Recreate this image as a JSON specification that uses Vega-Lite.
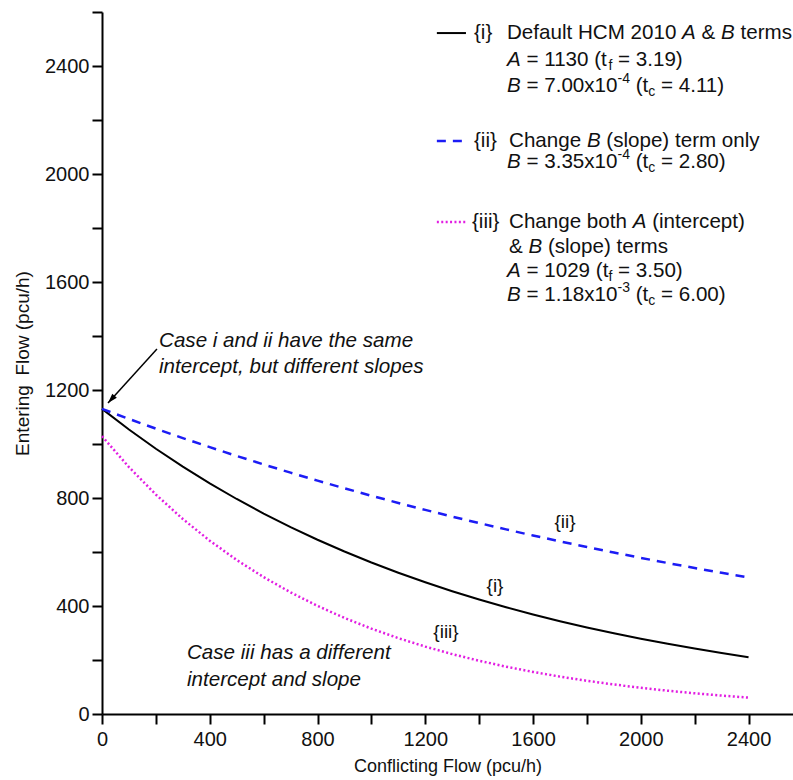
{
  "$schema": "https://vega.github.io/schema/vega-lite/v6.json",
  "autosize": {"type": "none"},
  "padding": {"left": 102, "top": 12, "right": 0, "bottom": 66},
  "width": 691,
  "height": 702,
  "config": {"view": {"stroke": null}, "font": "Liberation Sans"},
  "datasets": {
    "curves": [
      {"case":"i","x":0,"y":1130},{"case":"i","x":100,"y":1053.6},{"case":"i","x":200,"y":982.4},{"case":"i","x":300,"y":916.0},{"case":"i","x":400,"y":854.0},{"case":"i","x":500,"y":796.3},{"case":"i","x":600,"y":742.5},{"case":"i","x":700,"y":692.3},{"case":"i","x":800,"y":645.5},{"case":"i","x":900,"y":601.8},{"case":"i","x":1000,"y":561.1},{"case":"i","x":1100,"y":523.2},{"case":"i","x":1200,"y":487.8},{"case":"i","x":1300,"y":454.8},{"case":"i","x":1400,"y":424.1},{"case":"i","x":1500,"y":395.4},{"case":"i","x":1600,"y":368.7},{"case":"i","x":1700,"y":343.8},{"case":"i","x":1800,"y":320.5},{"case":"i","x":1900,"y":298.9},{"case":"i","x":2000,"y":278.7},{"case":"i","x":2100,"y":259.8},{"case":"i","x":2200,"y":242.3},{"case":"i","x":2300,"y":225.9},{"case":"i","x":2400,"y":210.6},
      {"case":"ii","x":0,"y":1130},{"case":"ii","x":100,"y":1092.8},{"case":"ii","x":200,"y":1056.8},{"case":"ii","x":300,"y":1021.9},{"case":"ii","x":400,"y":988.3},{"case":"ii","x":500,"y":955.7},{"case":"ii","x":600,"y":924.2},{"case":"ii","x":700,"y":893.8},{"case":"ii","x":800,"y":864.3},{"case":"ii","x":900,"y":835.9},{"case":"ii","x":1000,"y":808.3},{"case":"ii","x":1100,"y":781.7},{"case":"ii","x":1200,"y":755.9},{"case":"ii","x":1300,"y":731.0},{"case":"ii","x":1400,"y":707.0},{"case":"ii","x":1500,"y":683.7},{"case":"ii","x":1600,"y":661.1},{"case":"ii","x":1700,"y":639.4},{"case":"ii","x":1800,"y":618.3},{"case":"ii","x":1900,"y":597.9},{"case":"ii","x":2000,"y":578.2},{"case":"ii","x":2100,"y":559.2},{"case":"ii","x":2200,"y":540.8},{"case":"ii","x":2300,"y":522.9},{"case":"ii","x":2400,"y":505.7},
      {"case":"iii","x":0,"y":1029},{"case":"iii","x":100,"y":914.5},{"case":"iii","x":200,"y":812.7},{"case":"iii","x":300,"y":722.2},{"case":"iii","x":400,"y":641.9},{"case":"iii","x":500,"y":570.4},{"case":"iii","x":600,"y":506.9},{"case":"iii","x":700,"y":450.5},{"case":"iii","x":800,"y":400.4},{"case":"iii","x":900,"y":355.8},{"case":"iii","x":1000,"y":316.2},{"case":"iii","x":1100,"y":281.0},{"case":"iii","x":1200,"y":249.7},{"case":"iii","x":1300,"y":221.9},{"case":"iii","x":1400,"y":197.2},{"case":"iii","x":1500,"y":175.3},{"case":"iii","x":1600,"y":155.8},{"case":"iii","x":1700,"y":138.4},{"case":"iii","x":1800,"y":123.0},{"case":"iii","x":1900,"y":109.3},{"case":"iii","x":2000,"y":97.2},{"case":"iii","x":2100,"y":86.3},{"case":"iii","x":2200,"y":76.7},{"case":"iii","x":2300,"y":68.2},{"case":"iii","x":2400,"y":60.6}
    ],
    "legendLines": [
      {"case":"i","x":1243,"xe":1351,"y":2522},
      {"case":"ii","x":1243,"xe":1351,"y":2122},
      {"case":"iii","x":1243,"xe":1351,"y":1822}
    ],
    "normalText": [
      {"x":1380.8,"y":2522,"t":"{i}"},
      {"x":1503.3,"y":2522,"t":"Default HCM 2010"},
      {"x":2225.7,"y":2522,"t":"&"},
      {"x":2370.1,"y":2522,"t":"terms"},
      {"x":1575.7,"y":2422,"t":"= 1130 (t"},
      {"x":1915.4,"y":2422,"t":"= 3.19)"},
      {"x":1575.7,"y":2326,"t":"= 7.00x10"},
      {"x":1981.1,"y":2326,"t":"(t"},
      {"x":2075.0,"y":2326,"t":"= 4.11)"},
      {"x":1380.8,"y":2122,"t":"{ii}"},
      {"x":1510.8,"y":2122,"t":"Change"},
      {"x":1871.9,"y":2122,"t":"(slope) term only"},
      {"x":1575.7,"y":2044,"t":"= 3.35x10"},
      {"x":1981.1,"y":2044,"t":"(t"},
      {"x":2075.0,"y":2044,"t":"= 2.80)"},
      {"x":1373.4,"y":1822,"t":"{iii}"},
      {"x":1510.8,"y":1822,"t":"Change both"},
      {"x":2042.3,"y":1822,"t":"(intercept)"},
      {"x":1510.8,"y":1730,"t":"&"},
      {"x":1655.1,"y":1730,"t":"(slope) terms"},
      {"x":1575.7,"y":1641,"t":"= 1029 (t"},
      {"x":1915.4,"y":1641,"t":"= 3.50)"},
      {"x":1575.7,"y":1552,"t":"= 1.18x10"},
      {"x":1981.1,"y":1552,"t":"(t"},
      {"x":2075.0,"y":1552,"t":"= 6.00)"}
    ],
    "italicText": [
      {"x":2153.3,"y":2522,"t":"A"},
      {"x":2298.1,"y":2522,"t":"B"},
      {"x":1503.3,"y":2422,"t":"A"},
      {"x":1503.3,"y":2326,"t":"B"},
      {"x":1799.9,"y":2122,"t":"B"},
      {"x":1503.3,"y":2044,"t":"B"},
      {"x":1969.9,"y":1822,"t":"A"},
      {"x":1583.1,"y":1730,"t":"B"},
      {"x":1503.3,"y":1641,"t":"A"},
      {"x":1503.3,"y":1552,"t":"B"},
      {"x":211.6,"y":1381,"t":"Case i and ii have the same"},
      {"x":211.6,"y":1285,"t":"intercept, but different slopes"},
      {"x":315.5,"y":226,"t":"Case iii has a different"},
      {"x":315.5,"y":126,"t":"intercept and slope"}
    ],
    "subText": [
      {"x":1879.7,"y":2422,"t":"f"},
      {"x":2027.8,"y":2326,"t":"c"},
      {"x":2027.8,"y":2044,"t":"c"},
      {"x":1879.7,"y":1641,"t":"f"},
      {"x":2027.8,"y":1552,"t":"c"}
    ],
    "supText": [
      {"x":1913.9,"y":2326,"t":"-4"},
      {"x":1913.9,"y":2044,"t":"-4"},
      {"x":1913.9,"y":1552,"t":"-3"}
    ],
    "curveLabels": [
      {"x":1718.6,"y":711,"t":"{ii}"},
      {"x":1458.8,"y":474,"t":"{i}"},
      {"x":1276.9,"y":304,"t":"{iii}"}
    ],
    "arrow": [
      {"x":204,"y":1352,"xe":22.3,"ye":1152}
    ],
    "arrowHead": [
      {"x":22.3,"y":1152}
    ]
  },
  "encoding": {
    "x": {
      "field": "x", "type": "quantitative",
      "scale": {"domain": [0, 2565], "nice": false, "zero": false},
      "axis": {
        "title": "Conflicting Flow (pcu/h)",
        "values": [0,200,400,600,800,1000,1200,1400,1600,1800,2000,2200,2400],
        "labelExpr": "datum.value % 400 === 0 ? datum.label : ''",
        "format": "d",
        "grid": false,
        "domainColor": "black", "domainWidth": 2,
        "tickColor": "black", "tickWidth": 2, "tickSize": 10,
        "labelFontSize": 20, "labelColor": "#111", "labelPadding": 5,
        "labelFlush": false, "labelOverlap": false,
        "titleFontSize": 18, "titleFontWeight": "normal", "titleColor": "#111", "titlePadding": 8
      }
    },
    "y": {
      "field": "y", "type": "quantitative",
      "scale": {"domain": [0, 2600], "nice": false, "zero": false},
      "axis": {
        "title": "Entering\u2002Flow (pcu/h)",
        "values": [0,200,400,600,800,1000,1200,1400,1600,1800,2000,2200,2400,2600],
        "labelExpr": "datum.value == 0 ? '0\u2007\u2008' : (datum.value % 400 === 0 && datum.value < 2600 ? datum.label : '')",
        "format": "d",
        "grid": false,
        "domainColor": "black", "domainWidth": 2,
        "tickColor": "black", "tickWidth": 2, "tickSize": 10,
        "labelFontSize": 20, "labelColor": "#111", "labelPadding": 3,
        "labelOverlap": false,
        "titleFontSize": 19, "titleFontWeight": "normal", "titleColor": "#111", "titlePadding": 12
      }
    }
  },
  "layer": [
    {
      "data": {"values": [{}]},
      "mark": {"type": "rule", "color": "black", "strokeWidth": 2},
      "encoding": {"x": {"datum": 0}, "x2": {"datum": 2565}, "y": {"datum": 2600}}
    },
    {
      "data": {"name": "curves"},
      "transform": [{"filter": "datum.case == 'i'"}],
      "mark": {"type": "line", "color": "black", "strokeWidth": 2}
    },
    {
      "data": {"name": "curves"},
      "transform": [{"filter": "datum.case == 'ii'"}],
      "mark": {"type": "line", "color": "#1c1cf5", "strokeWidth": 2.5, "strokeDash": [9, 7]}
    },
    {
      "data": {"name": "curves"},
      "transform": [{"filter": "datum.case == 'iii'"}],
      "mark": {"type": "line", "color": "#e21ee2", "strokeWidth": 2.5, "strokeDash": [2, 2.4]}
    },
    {
      "data": {"name": "legendLines"},
      "transform": [{"filter": "datum.case == 'i'"}],
      "mark": {"type": "rule", "color": "black", "strokeWidth": 2},
      "encoding": {"x2": {"field": "xe"}}
    },
    {
      "data": {"name": "legendLines"},
      "transform": [{"filter": "datum.case == 'ii'"}],
      "mark": {"type": "rule", "color": "#1c1cf5", "strokeWidth": 2.5, "strokeDash": [9, 7]},
      "encoding": {"x2": {"field": "xe"}}
    },
    {
      "data": {"name": "legendLines"},
      "transform": [{"filter": "datum.case == 'iii'"}],
      "mark": {"type": "rule", "color": "#e21ee2", "strokeWidth": 2.5, "strokeDash": [2, 2.4]},
      "encoding": {"x2": {"field": "xe"}}
    },
    {
      "data": {"name": "normalText"},
      "mark": {"type": "text", "align": "left", "baseline": "middle", "fontSize": 20.6, "color": "#111"},
      "encoding": {"text": {"field": "t"}}
    },
    {
      "data": {"name": "italicText"},
      "mark": {"type": "text", "align": "left", "baseline": "middle", "fontSize": 20.6, "fontStyle": "italic", "color": "#111"},
      "encoding": {"text": {"field": "t"}}
    },
    {
      "data": {"name": "subText"},
      "mark": {"type": "text", "align": "left", "baseline": "middle", "fontSize": 14, "dy": 6, "color": "#111"},
      "encoding": {"text": {"field": "t"}}
    },
    {
      "data": {"name": "supText"},
      "mark": {"type": "text", "align": "left", "baseline": "middle", "fontSize": 14, "dy": -7, "color": "#111"},
      "encoding": {"text": {"field": "t"}}
    },
    {
      "data": {"name": "curveLabels"},
      "mark": {"type": "text", "align": "center", "baseline": "middle", "fontSize": 19, "color": "#111"},
      "encoding": {"text": {"field": "t"}}
    },
    {
      "data": {"name": "arrow"},
      "mark": {"type": "rule", "color": "black", "strokeWidth": 1.5},
      "encoding": {"x2": {"field": "xe"}, "y2": {"field": "ye"}}
    },
    {
      "data": {"name": "arrowHead"},
      "mark": {"type": "point", "shape": "M0,0L-0.5,1.6L0.5,1.6Z", "filled": true, "color": "black", "size": 150, "angle": 222, "opacity": 1}
    }
  ]
}
